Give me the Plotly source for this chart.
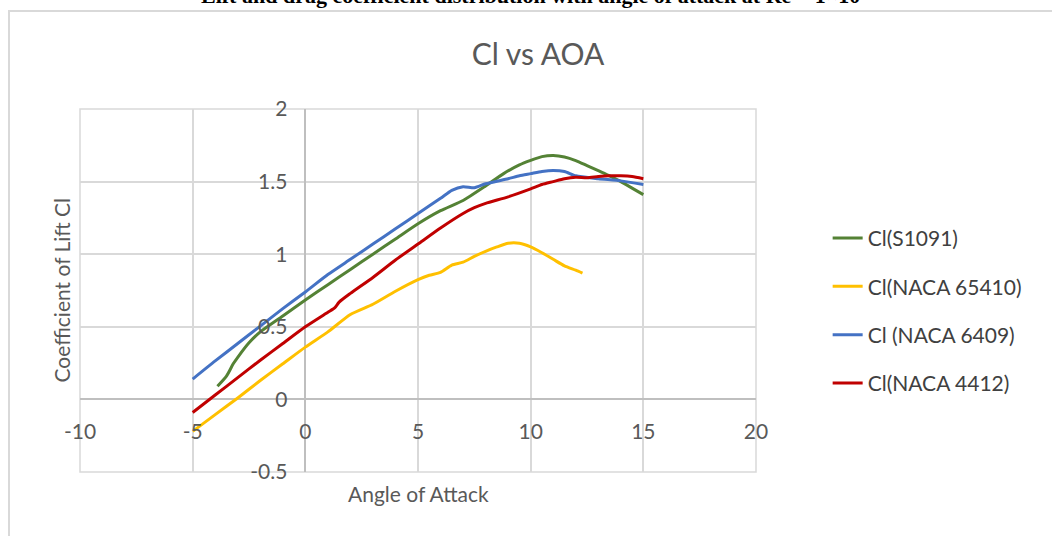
import plotly.graph_objects as go

# ---- data ----
aoa_s1091 = [-3.9, -3.5, -3.2, -3.0, -2.5, -2.0, -1.0, 0.0, 1.0, 2.0, 3.0, 4.0, 5.0, 6.0, 7.0, 8.0, 8.8, 9.5, 10.0, 10.5, 11.0, 11.5, 12.0, 12.5, 13.0, 13.5, 14.0, 14.5, 15.0]
cl_s1091 = [0.09, 0.16, 0.245, 0.29, 0.39, 0.465, 0.575, 0.685, 0.79, 0.895, 1.0, 1.105, 1.21, 1.30, 1.37, 1.47, 1.555, 1.615, 1.646, 1.672, 1.68, 1.67, 1.645, 1.61, 1.575, 1.54, 1.50, 1.455, 1.41]

aoa_65410 = [-5, -4, -3, -2, -1, 0, 1, 2, 3, 4, 5, 5.5, 6, 6.5, 7, 7.5, 8, 8.5, 9, 9.5, 10, 10.5, 11, 11.5, 12, 12.3]
cl_65410 = [-0.22, -0.105, 0.01, 0.13, 0.245, 0.36, 0.465, 0.585, 0.655, 0.745, 0.825, 0.855, 0.875, 0.925, 0.945, 0.985, 1.02, 1.05, 1.075, 1.075, 1.05, 1.01, 0.965, 0.92, 0.89, 0.87]

aoa_6409 = [-5, -4, -3, -2, -1, 0, 1, 2, 3, 4, 5, 6, 6.5, 7, 7.5, 8, 9, 9.5, 10, 10.5, 11, 11.5, 12, 13, 14, 15]
cl_6409 = [0.14, 0.265, 0.385, 0.505, 0.625, 0.74, 0.86, 0.965, 1.07, 1.175, 1.28, 1.385, 1.44, 1.465, 1.458, 1.485, 1.52, 1.54, 1.555, 1.57, 1.577, 1.57, 1.54, 1.52, 1.505, 1.48]

aoa_4412 = [-5, -4, -3, -2, -1, 0, 1, 1.3, 1.5, 2, 3, 4, 5, 6, 7, 7.5, 8, 9, 10, 10.5, 11, 11.5, 12, 12.5, 13, 13.5, 14, 14.5, 15]
cl_4412 = [-0.09, 0.03, 0.15, 0.27, 0.385, 0.50, 0.60, 0.63, 0.67, 0.73, 0.84, 0.96, 1.07, 1.18, 1.28, 1.32, 1.35, 1.395, 1.45, 1.48, 1.50, 1.52, 1.53, 1.527, 1.535, 1.54, 1.54, 1.535, 1.52]

series_names = ["Cl(S1091)", "Cl(NACA 65410)", "Cl (NACA 6409)", "Cl(NACA 4412)"]
series_colors = ["#548235", "#FFC000", "#4472C4", "#C00000"]
series_x = [aoa_s1091, aoa_65410, aoa_6409, aoa_4412]
series_y = [cl_s1091, cl_65410, cl_6409, cl_4412]

x_tick_vals = [-10, -5, 0, 5, 10, 15, 20]
x_tick_text = ["-10", "-5", "0", "5", "10", "15", "20"]
y_tick_vals = [-0.5, 0, 0.5, 1, 1.5, 2]
y_tick_text = ["-0.5", "0", "0.5", "1", "1.5", "2"]

FONT = "Lato, Calibri, Carlito, sans-serif"

fig = go.Figure()
for i, (nm, col, xs, ys) in enumerate(zip(series_names, series_colors, series_x, series_y)):
    fig.add_trace(go.Scatter(
        x=xs, y=ys, name=nm, mode="lines",
        line=dict(color=col, width=3, shape="spline", smoothing=0.6),
        legendgroup=f"g{i}",
    ))

fig.update_layout(
    width=1052, height=536,
    margin=dict(l=80, r=296, t=109, b=64),
    paper_bgcolor="white", plot_bgcolor="white",
    showlegend=True,
    title=dict(text="Cl vs AOA", x=0.6775, xref="paper", xanchor="center",
               y=1 - 54 / 536, yref="container", yanchor="middle",
               font=dict(family=FONT, size=30, color="#595959")),
    legend=dict(x=1.106, xanchor="left", y=0.70, yanchor="top",
                font=dict(family=FONT, size=21, color="#404040"),
                tracegroupgap=18, traceorder="grouped",
                bgcolor="rgba(0,0,0,0)"),
    xaxis=dict(range=[-10, 20], tickvals=x_tick_vals, ticktext=x_tick_text,
               anchor="free", position=0.2,
               showgrid=True, gridcolor="#d9d9d9", gridwidth=1.5,
               zeroline=True, zerolinecolor="#bfbfbf", zerolinewidth=1.5,
               showline=False, ticks="", ticklabelstandoff=18,
               tickfont=dict(family=FONT, size=21, color="#595959")),
    yaxis=dict(range=[-0.5, 2], tickvals=y_tick_vals, ticktext=y_tick_text,
               anchor="free", position=1 / 3,
               showgrid=True, gridcolor="#d9d9d9", gridwidth=1.5,
               zeroline=True, zerolinecolor="#bfbfbf", zerolinewidth=1.5,
               showline=False, ticks="", ticklabelstandoff=18,
               tickfont=dict(family=FONT, size=21, color="#595959")),
)

# plot-area frame (outer gridlines at -10, 20, -0.5 and 2)
fig.add_shape(type="rect", xref="paper", yref="paper", x0=0, x1=1, y0=0, y1=1,
              line=dict(color="#d9d9d9", width=1.5), fillcolor="rgba(0,0,0,0)", layer="below")

# axis titles
fig.add_annotation(text="Angle of Attack", xref="paper", yref="paper",
                   x=0.5, y=(472 - 493) / 363, xanchor="center", yanchor="middle",
                   showarrow=False, font=dict(family=FONT, size=21, color="#595959"))
fig.add_annotation(text="Coefficient of Lift Cl", xref="paper", yref="paper",
                   x=(61 - 80) / 676, y=0.5, xanchor="center", yanchor="middle", textangle=-90,
                   showarrow=False, font=dict(family=FONT, size=21, color="#595959"))

# cut-off document heading above the chart
fig.add_annotation(text="<b>Lift and drag coefficient distribution with angle of attack at Re = 1×10<sup>6</sup></b>",
                   xref="paper", yref="paper", x=(534 - 80) / 676, y=(472 - 10) / 363,
                   xanchor="center", yanchor="bottom", showarrow=False,
                   font=dict(family="Liberation Serif, Times New Roman, serif", size=22, color="black"))

# chart area border
fig.add_shape(type="rect", xref="paper", yref="paper",
              x0=(9 - 80) / 676, x1=1.6, y0=-0.5, y1=(472 - 11) / 363,
              line=dict(color="#d9d9d9", width=2), fillcolor="rgba(0,0,0,0)", layer="below")

fig.write_html("out.html")
